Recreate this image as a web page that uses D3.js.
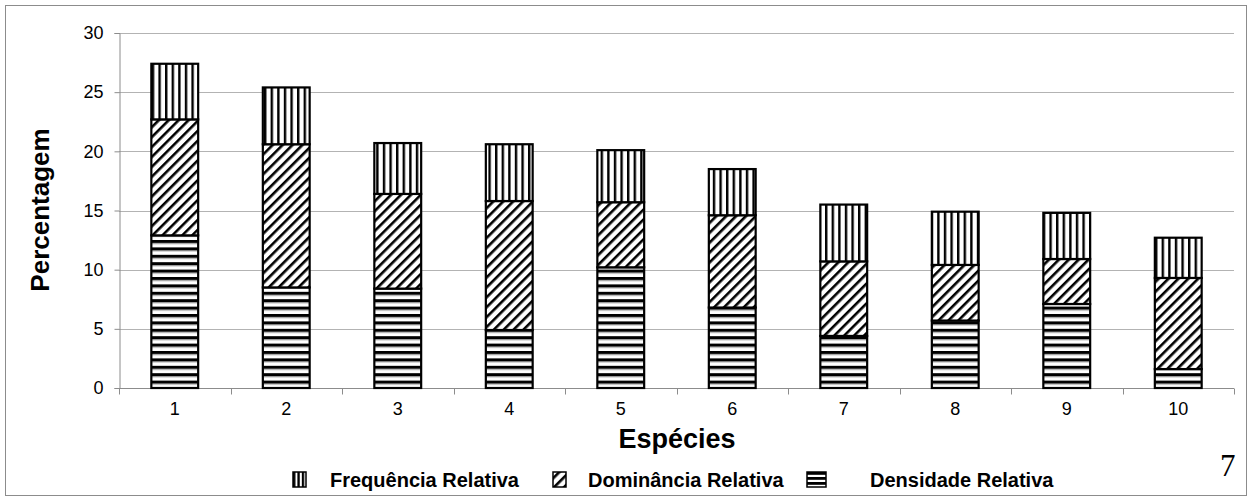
<!DOCTYPE html>
<html>
<head>
<meta charset="utf-8">
<script src="https://cdn.jsdelivr.net/npm/d3@7"></script>
<style>
  html, body { margin: 0; padding: 0; background: #fff; }
  svg { display: block; font-family: "Liberation Sans", Arial, sans-serif; }
</style>
</head>
<body>
<svg id="chart" width="1252" height="501"></svg>
<script>
// Species (x categories)
const categories = ["1", "2", "3", "4", "5", "6", "7", "8", "9", "10"];
// Stacked components (%), bottom to top
const densidade  = [12.9, 8.5, 8.4, 4.9, 10.2, 6.8, 4.4, 5.7, 7.1, 1.6];
const dominancia = [9.8, 12.1, 8.0, 10.9, 5.5, 7.8, 6.3, 4.7, 3.8, 7.7];
const frequencia = [4.7, 4.8, 4.3, 4.8, 4.4, 3.9, 4.8, 4.5, 3.9, 3.4];
const yTicks = [0, 5, 10, 15, 20, 25, 30];
const seriesNames = ["Frequência Relativa", "Dominância Relativa", "Densidade Relativa"];

const svg = d3.select("#chart");
const FONT = "Liberation Sans, Arial, sans-serif";

// Outer frame
svg.append("rect").attr("x", 5.5).attr("y", 5.5).attr("width", 1241).attr("height", 490)
  .attr("fill", "#fff").attr("stroke", "#8c8c8c").attr("stroke-width", 1);

// Fill patterns
const defs = svg.append("defs");
const pV = defs.append("pattern").attr("id", "pat-vert").attr("patternUnits", "userSpaceOnUse")
  .attr("width", 6.6).attr("height", 10);
pV.append("rect").attr("width", 6.6).attr("height", 10).attr("fill", "#fff");
pV.append("rect").attr("x", 0).attr("width", 2.4).attr("height", 10).attr("fill", "#000");

const pH = defs.append("pattern").attr("id", "pat-horz").attr("patternUnits", "userSpaceOnUse")
  .attr("width", 10).attr("height", 7.4).attr("y", 388);
pH.append("rect").attr("width", 10).attr("height", 7.4).attr("fill", "#fff");
pH.append("rect").attr("y", 0).attr("width", 10).attr("height", 3).attr("fill", "#000");
pH.append("rect").attr("y", 3).attr("width", 10).attr("height", 1).attr("fill", "#888");

const pD = defs.append("pattern").attr("id", "pat-diag").attr("patternUnits", "userSpaceOnUse")
  .attr("width", 7).attr("height", 10).attr("patternTransform", "rotate(45)");
pD.append("rect").attr("width", 7).attr("height", 10).attr("fill", "#fff");
pD.append("rect").attr("x", 0).attr("width", 2.6).attr("height", 10).attr("fill", "#000");

// Legend swatch patterns (denser)
const lV = defs.append("pattern").attr("id", "leg-vert").attr("patternUnits", "userSpaceOnUse")
  .attr("x", 293).attr("width", 4.4).attr("height", 10);
lV.append("rect").attr("width", 4.4).attr("height", 10).attr("fill", "#fff");
lV.append("rect").attr("width", 2.4).attr("height", 10).attr("fill", "#000");
const lH = defs.append("pattern").attr("id", "leg-horz").attr("patternUnits", "userSpaceOnUse")
  .attr("y", 472).attr("width", 10).attr("height", 5);
lH.append("rect").attr("width", 10).attr("height", 5).attr("fill", "#fff");
lH.append("rect").attr("width", 10).attr("height", 2.8).attr("fill", "#000");

// Plot area
const margin = { left: 119, right: 1234, top: 33, bottom: 388 };
const x = d3.scaleBand().domain(categories).range([margin.left, margin.right]).paddingInner(0.58).paddingOuter(0.29);
const xTickScale = d3.scaleLinear().domain([0, categories.length]).range([margin.left, margin.right]);
const y = d3.scaleLinear().domain([0, 30]).range([margin.bottom, margin.top]);

// Horizontal gridlines
svg.append("g").selectAll("line").data(yTicks.filter(d => d > 0)).join("line")
  .attr("x1", margin.left).attr("x2", margin.right)
  .attr("y1", d => Math.round(y(d)) + 0.5).attr("y2", d => Math.round(y(d)) + 0.5)
  .attr("stroke", "#b3b3b3").attr("stroke-width", 1.2);

// Y axis
const yAxis = svg.append("g").attr("transform", `translate(${margin.left + 0.5},0)`)
  .call(d3.axisLeft(y).tickValues(yTicks).tickSize(5).tickPadding(11));
yAxis.attr("font-size", 18).attr("font-family", FONT);
yAxis.select(".domain").attr("stroke", "#8c8c8c");
yAxis.selectAll(".tick line").attr("stroke", "#8c8c8c");
yAxis.selectAll(".tick text").attr("fill", "#000");

// X axis: ticks at category boundaries, labels at centres
const xAxisG = svg.append("g").attr("transform", `translate(0,${margin.bottom + 0.5})`);
xAxisG.append("line").attr("x1", margin.left).attr("x2", margin.right).attr("stroke", "#8c8c8c");
xAxisG.selectAll("line.tk").data(d3.range(categories.length + 1)).join("line").attr("class", "tk")
  .attr("x1", d => Math.round(xTickScale(d)) + 0.5).attr("x2", d => Math.round(xTickScale(d)) + 0.5)
  .attr("y1", 0).attr("y2", 6).attr("stroke", "#8c8c8c");
xAxisG.selectAll("text").data(categories).join("text")
  .attr("x", d => x(d) + x.bandwidth() / 2).attr("y", 26)
  .attr("text-anchor", "middle").attr("font-size", 18).text(d => d);

// Stacked bars
const rows = categories.map((c, i) => ({ cat: c, dens: densidade[i], dom: dominancia[i], freq: frequencia[i] }));
const stack = d3.stack().keys(["dens", "dom", "freq"])(rows);
const fills = { dens: "url(#pat-horz)", dom: "url(#pat-diag)", freq: "url(#pat-vert)" };
svg.append("g").selectAll("g").data(stack).join("g")
  .attr("fill", d => fills[d.key])
  .selectAll("rect").data(d => d).join("rect")
  .attr("x", d => x(d.data.cat))
  .attr("width", x.bandwidth())
  .attr("y", d => y(d[1]))
  .attr("height", d => y(d[0]) - y(d[1]))
  .attr("stroke", "#000").attr("stroke-width", 2.2);

// Axis titles
svg.append("text").attr("x", 677).attr("y", 448)
  .attr("text-anchor", "middle").attr("font-size", 27).attr("font-weight", "bold").text("Espécies");
svg.append("text").attr("transform", "translate(49,210) rotate(-90)")
  .attr("text-anchor", "middle").attr("font-size", 26).attr("font-weight", "bold").text("Percentagem");

// Legend
const legend = [
  { name: seriesNames[0], fill: "url(#leg-vert)", sx: 293, sw: 13, tx: 330 },
  { name: seriesNames[1], fill: "url(#pat-diag)", sx: 553, sw: 13, tx: 588 },
  { name: seriesNames[2], fill: "url(#leg-horz)", sx: 807, sw: 19, tx: 870 }
];
const lg = svg.append("g").selectAll("g").data(legend).join("g");
lg.append("rect").attr("x", d => d.sx).attr("y", 472).attr("width", d => d.sw).attr("height", 15)
  .attr("fill", d => d.fill).attr("stroke", "#000").attr("stroke-width", 1.5);
lg.append("text").attr("x", d => d.tx).attr("y", 487).attr("font-size", 20).attr("font-weight", "bold").text(d => d.name);

// Page number
svg.append("text").attr("x", 1220).attr("y", 476).attr("font-size", 31)
  .attr("font-family", "Liberation Serif, Times New Roman, serif").text("7");
</script>
</body>
</html>
